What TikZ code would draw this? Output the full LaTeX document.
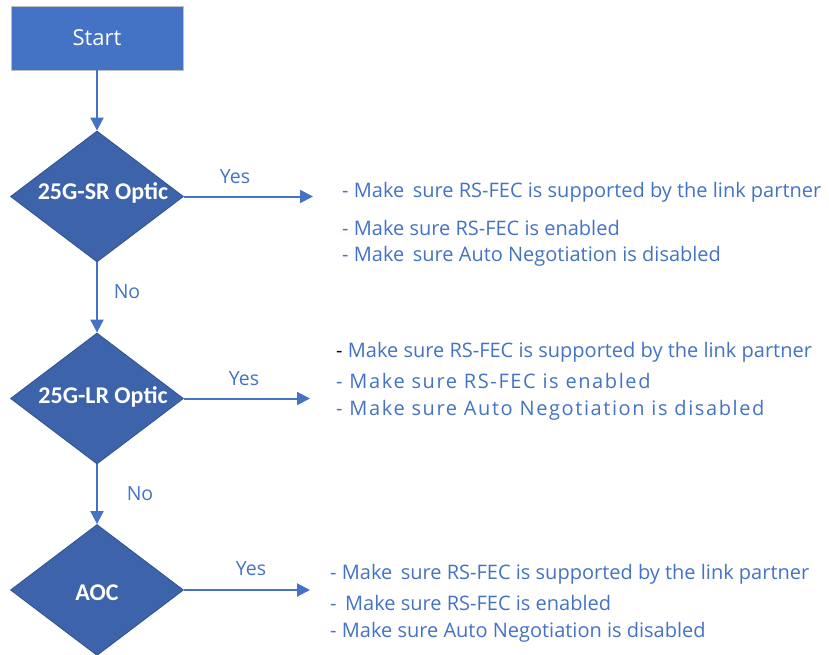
\documentclass[tikz,border=0pt]{standalone}
\usepackage{fontspec}
\setmainfont{Open Sans}
\newfontfamily\diafont{Carlito}
\usetikzlibrary{shapes.geometric,arrows.meta}
\definecolor{boxblue}{HTML}{4472C4}
\definecolor{diablue}{HTML}{3D63AA}
\definecolor{diaedge}{HTML}{2F528F}
\definecolor{txtblue}{HTML}{4472C4}
\tikzset{
  x=1pt,y=-1pt,
  startbox/.style={draw=black!25,line width=0.8pt,fill=boxblue,minimum width=172pt,minimum height=64pt,inner sep=0pt,
    text=white,font=\fontsize{22}{26}\selectfont},
  dia/.style={diamond,draw=diaedge,line width=0.8pt,fill=diablue,minimum width=173pt,minimum height=131pt,inner sep=0pt,aspect=1.32},
  diatext/.style={text=white,font=\diafont\bfseries\fontsize{24}{28}\selectfont,yshift=4pt},
  arr/.style={draw=boxblue,line width=2pt,-{Triangle[length=13pt,width=13pt]}},
  lbl/.style={text=txtblue,font=\fontsize{19.5}{23}\selectfont,inner sep=0pt},
  item/.style={text=txtblue,font=\fontsize{20}{24}\selectfont,anchor=west,inner sep=0pt},
  itemwide/.style={item,font=\fontsize{20}{24}\selectfont\addfontfeature{LetterSpace=8}},
}
\begin{document}
\begin{tikzpicture}
\useasboundingbox (0,0) rectangle (829,655);
\node[startbox] (start) at (97,38) {Start};
\node[dia,label={[diatext,xshift=6pt]center:25G-SR Optic}] (d1) at (97,196.5) {};
\node[dia,label={[diatext,xshift=6pt,yshift=-2pt]center:25G-LR Optic}] (d2) at (97,398.5) {};
\node[dia,label={[diatext,yshift=-7pt]center:AOC}] (d3) at (97,590) {};
\coordinate (y1) at (313,196.5);
\coordinate (y2) at (310,398.5);
\coordinate (y3) at (310,590);
\draw[arr] (start) -- (d1);
\draw[arr] (d1) -- (d2);
\draw[arr] (d2) -- (d3);
\draw[arr] (d1.east) -- (y1);
\draw[arr] (d2.east) -- (y2);
\draw[arr] (d3.east) -- (y3);
\node[lbl] (yes1) at (235,177) {Yes};
\node[lbl] (yes2) at (244,379) {Yes};
\node[lbl] (yes3) at (251,569) {Yes};
\node[lbl] (no1) at (127,292) {No};
\node[lbl] (no2) at (140,494) {No};
% block 1
\node[item] (a1) at (342,192) {- Make\, sure RS-FEC is supported by the link partner};
\node[item] (a2) at (342,228) {- Make sure RS-FEC is enabled};
\node[item] (a3) at (342,256) {- Make\, sure Auto Negotiation is disabled};
% block 2
\node[item] (b1) at (336,352) {\textcolor{black}{-} Make sure RS-FEC is supported by the link partner};
\node[itemwide] (b2) at (336,381) {- Make sure RS-FEC is enabled};
\node[itemwide] (b3) at (336,410) {- Make sure Auto Negotiation is disabled};
% block 3
\node[item] (c1) at (330,574) {- Make\, sure RS-FEC is supported by the link partner};
\node[item] (c2) at (330,603) {-\, Make sure RS-FEC is enabled};
\node[item] (c3) at (330,632) {- Make sure Auto Negotiation is disabled};
\end{tikzpicture}
\end{document}
